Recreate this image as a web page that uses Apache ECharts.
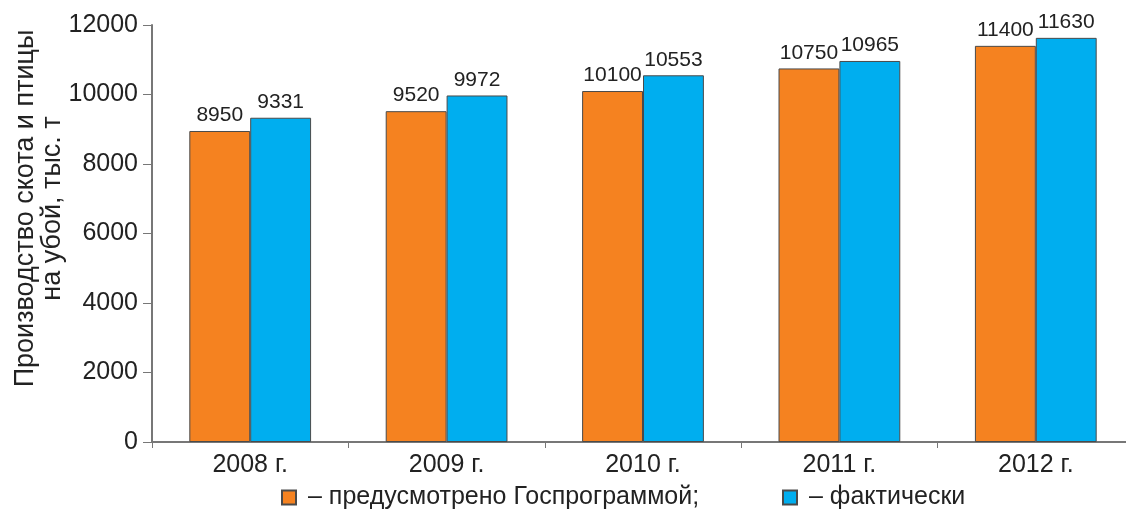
<!DOCTYPE html>
<html>
<head>
<meta charset="utf-8">
<script src="https://cdn.jsdelivr.net/npm/echarts@6/dist/echarts.min.js"></script>
<style>
  html, body { margin: 0; padding: 0; background: #fff; }
  #chart { width: 1126px; height: 514px; }
</style>
</head>
<body>
<div id="chart"></div>
<script>
const years = ["2008 г.", "2009 г.", "2010 г.", "2011 г.", "2012 г."];
const planned = [8950, 9520, 10100, 10750, 11400];
const actual = [9331, 9972, 10553, 10965, 11630];
const seriesNames = ["– предусмотрено Госпрограммой;", "– фактически"];

const font = "Liberation Sans, Arial, sans-serif";

const chart = echarts.init(document.getElementById("chart"));

const valueLabel = {
  show: true,
  position: "top",
  distance: 5,
  color: "#222",
  fontSize: 21,
  fontFamily: font,
};

// одна легенда на каждую серию, чтобы разнести их как в оригинале
const legendBase = {
  bottom: 4,
  padding: 0,
  icon: "rect",
  itemWidth: 14,
  itemHeight: 14,
  textStyle: { fontSize: 25, color: "#222", fontFamily: font, padding: [0, 0, 0, 7] },
};

chart.setOption({
  animation: false,
  grid: { left: 152, right: -8, top: 25, bottom: 72, outerBoundsMode: "none" },
  legend: [
    Object.assign({}, legendBase, { left: 281, data: [seriesNames[0]] }),
    Object.assign({}, legendBase, { left: 782, data: [seriesNames[1]] }),
  ],
  xAxis: {
    type: "category",
    data: years,
    axisLine: { lineStyle: { color: "#777", width: 2 } },
    axisTick: { show: true, length: 6, lineStyle: { color: "#777" } },
    axisLabel: { fontSize: 25, color: "#222", margin: 11, fontFamily: font },
  },
  yAxis: {
    type: "value",
    min: 0,
    max: 12000,
    interval: 2000,
    name: "Производство скота и птицы\nна убой, тыс. т",
    nameLocation: "middle",
    nameGap: 86,
    nameMoveOverlap: false,
    // сдвиг подписи оси вверх, как на исходной картинке
    nameTextStyle: {
      fontSize: 27,
      color: "#222",
      fontFamily: font,
      lineHeight: 27,
      padding: [0, 0, 0, 50],
    },
    axisLine: { show: true, lineStyle: { color: "#777", width: 2 } },
    axisTick: { show: true, length: 9, lineStyle: { color: "#777" } },
    axisLabel: {
      fontSize: 25,
      color: "#222",
      margin: 14,
      fontFamily: font,
      formatter: (v) => String(v),
    },
    splitLine: { show: false },
  },
  series: [
    {
      name: seriesNames[0],
      type: "bar",
      data: planned,
      barGap: "0%",
      barCategoryGap: "38%",
      itemStyle: { color: "#F58220", borderColor: "#4a4a4a", borderWidth: 1 },
      label: valueLabel,
    },
    {
      name: seriesNames[1],
      type: "bar",
      data: actual,
      itemStyle: { color: "#00AEEF", borderColor: "#4a4a4a", borderWidth: 1 },
      label: valueLabel,
    },
  ],
});
</script>
</body>
</html>
